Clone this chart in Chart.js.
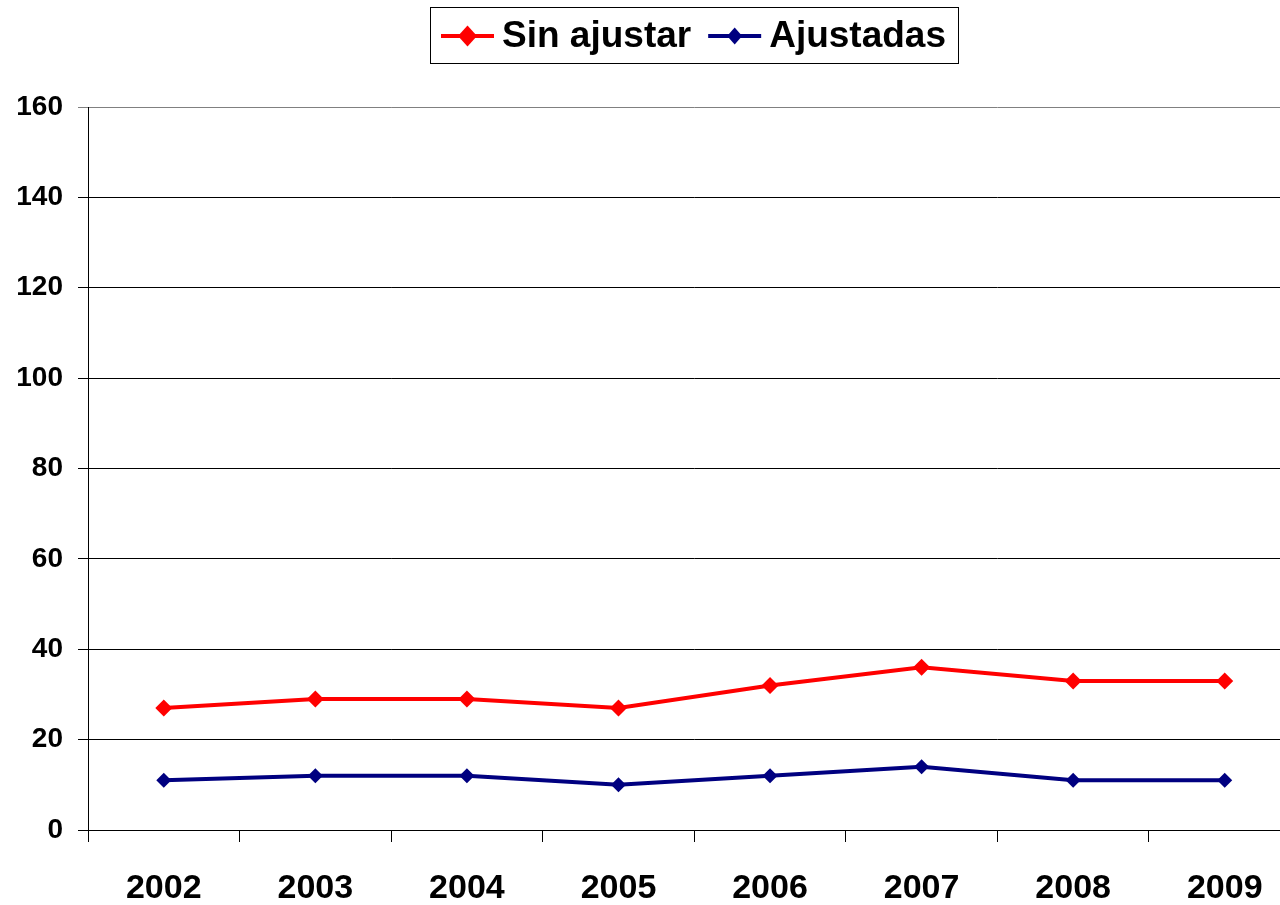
<!DOCTYPE html>
<html>
<head>
<meta charset="utf-8">
<script src="https://cdn.jsdelivr.net/npm/chart.js@4.4.0/dist/chart.umd.min.js"></script>
<style>
  html, body { margin: 0; padding: 0; background: #fff; overflow: hidden; width: 1280px; height: 905px; }
  canvas { display: block; }
</style>
</head>
<body>
<canvas id="c" width="1309" height="905" style="width:1309px;height:905px"></canvas>
<script>
const years = ["2002", "2003", "2004", "2005", "2006", "2007", "2008", "2009"];
const sinAjustar = [27, 29, 29, 27, 32, 36, 33, 33];
const ajustadas = [11, 12, 12, 10, 12, 14, 11, 11];
const seriesNames = ["Sin ajustar", "Ajustadas"];
const yTicks = [0, 20, 40, 60, 80, 100, 120, 140, 160];

const FONT = "'Liberation Sans', Arial, sans-serif";

const boxLegend = {
  id: 'boxLegend',
  afterDraw(chart) {
    const ctx = chart.ctx;
    const ds = chart.data.datasets;
    ctx.save();
    ctx.font = "bold 37px " + FONT;
    const seg = 53, gapAfterSeg = 8, gapBetween = 17, padL = 11, padR = 12;
    const legendR = [9.5, 7.5];
    const widths = ds.map(d => ctx.measureText(d.label).width);
    let total = padL + padR;
    widths.forEach((w, i) => { total += seg + gapAfterSeg + w + (i < widths.length - 1 ? gapBetween : 0); });
    const left = 430;
    const top = 7, h = 56;
    ctx.strokeStyle = '#000';
    ctx.lineWidth = 1;
    ctx.strokeRect(left + 0.5, top + 0.5, Math.round(total), h);
    let x = left + padL;
    const cy = 36;
    ds.forEach((d, i) => {
      ctx.strokeStyle = d.borderColor;
      ctx.lineWidth = 4;
      ctx.beginPath();
      ctx.moveTo(x, cy);
      ctx.lineTo(x + seg, cy);
      ctx.stroke();
      const r = legendR[i];
      ctx.fillStyle = d.pointBackgroundColor;
      ctx.beginPath();
      ctx.moveTo(x + seg / 2, cy - r - 1);
      ctx.lineTo(x + seg / 2 + r, cy);
      ctx.lineTo(x + seg / 2, cy + r + 1);
      ctx.lineTo(x + seg / 2 - r, cy);
      ctx.closePath();
      ctx.fill();
      x += seg + gapAfterSeg;
      ctx.fillStyle = '#000';
      ctx.textBaseline = 'middle';
      ctx.textAlign = 'left';
      ctx.fillText(d.label, x, cy + 1);
      x += widths[i] + gapBetween;
    });
    ctx.restore();
  }
};

new Chart(document.getElementById('c'), {
  type: 'line',
  data: {
    labels: years,
    datasets: [
      {
        label: seriesNames[0],
        data: sinAjustar,
        borderColor: '#FF0000',
        backgroundColor: '#FF0000',
        pointBackgroundColor: '#FF0000',
        pointBorderColor: '#FF0000',
        borderWidth: 4,
        pointStyle: 'rectRot',
        pointRadius: 8.5,
        pointBorderWidth: 0,
        tension: 0
      },
      {
        label: seriesNames[1],
        data: ajustadas,
        borderColor: '#000080',
        backgroundColor: '#000080',
        pointBackgroundColor: '#000080',
        pointBorderColor: '#000080',
        borderWidth: 4,
        pointStyle: 'rectRot',
        pointRadius: 7.5,
        pointBorderWidth: 0,
        tension: 0
      }
    ]
  },
  options: {
    responsive: false,
    animation: false,
    layout: { padding: { top: 107, right: 0, left: 0, bottom: 0 } },
    plugins: { legend: { display: false }, tooltip: { enabled: false } },
    scales: {
      x: {
        offset: true,
        grid: { offset: true, drawOnChartArea: false, drawTicks: true, tickLength: 12, color: '#000' },
        border: { color: '#000', width: 1 },
        ticks: { color: '#000', font: { family: FONT, weight: 'bold', size: 34 }, padding: 26, maxRotation: 0, autoSkip: false },
        afterFit(scale) { scale.height = 75; }
      },
      y: {
        min: yTicks[0],
        max: yTicks[yTicks.length - 1],
        afterBuildTicks(scale) { scale.ticks = yTicks.map(v => ({ value: v })); },
        grid: {
          color: ctx => (ctx.tick && ctx.tick.value === 160) ? '#808080' : '#000',
          tickLength: 10,
          lineWidth: 1
        },
        border: { color: '#000', width: 1 },
        ticks: { color: '#000', font: { family: FONT, weight: 'bold', size: 28 }, padding: 15 },
        afterFit(scale) { scale.width = 88; }
      }
    }
  },
  plugins: [boxLegend]
});
</script>
</body>
</html>
